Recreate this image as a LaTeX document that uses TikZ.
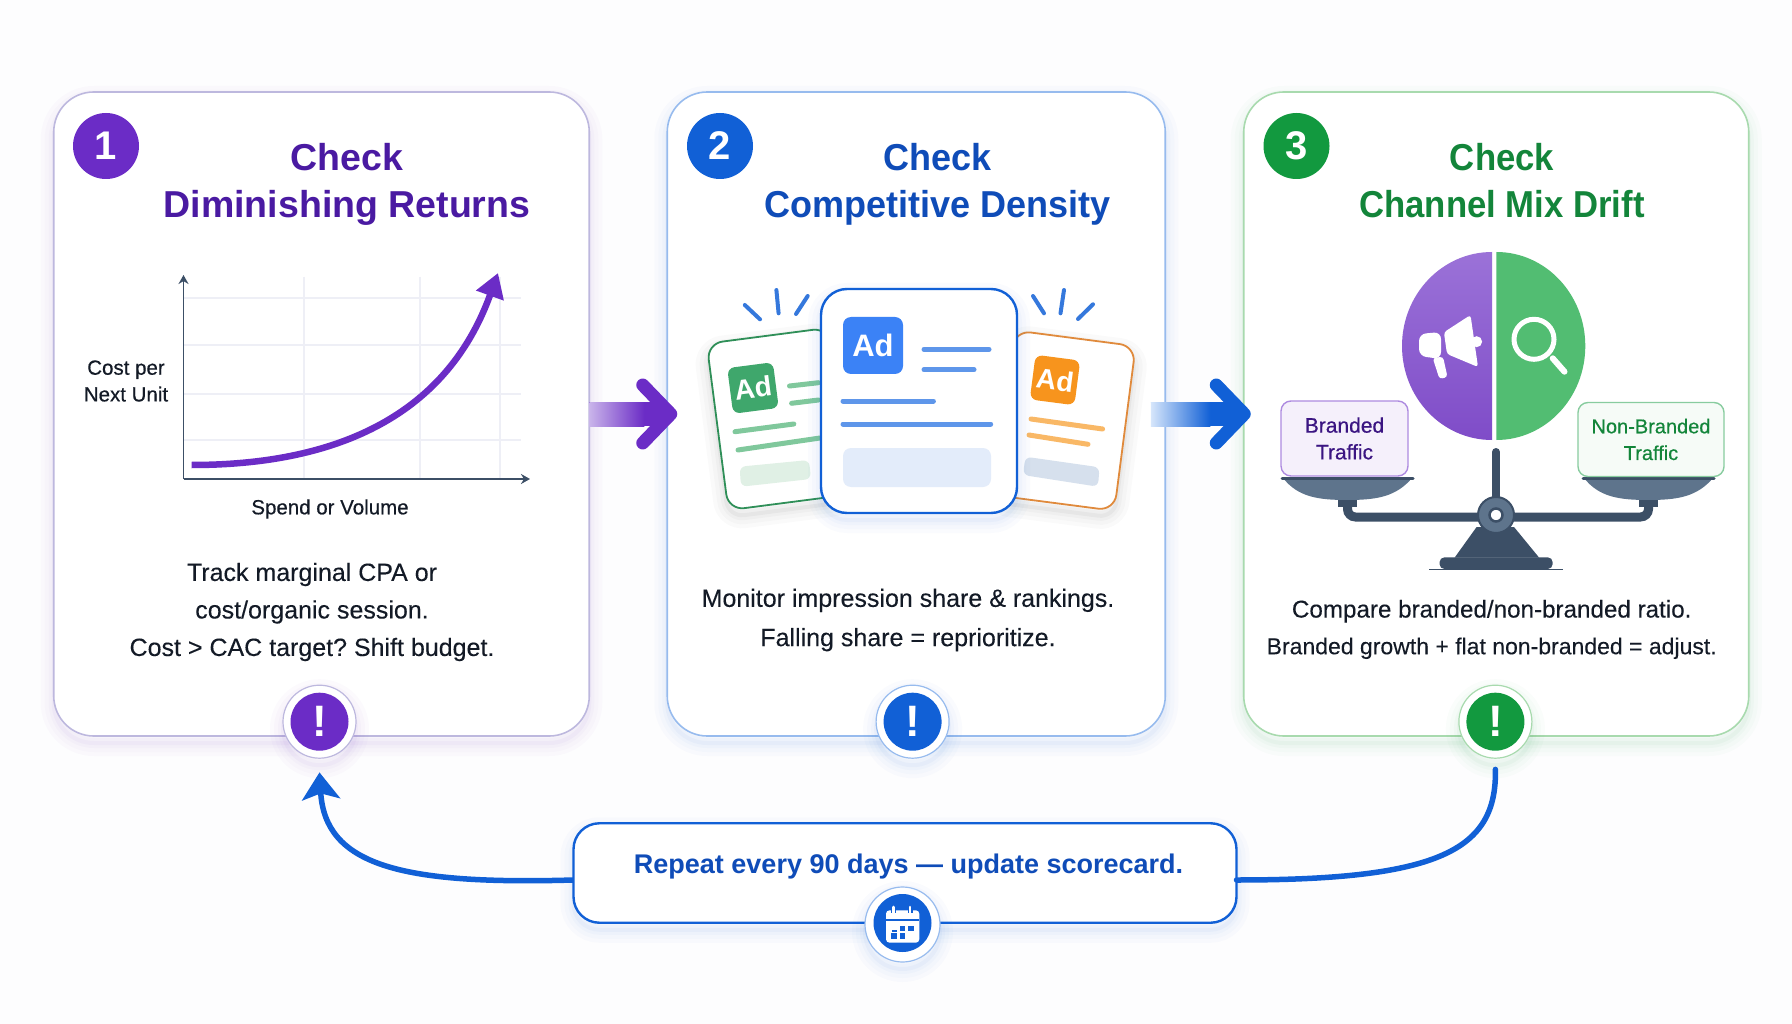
\documentclass[tikz,border=0pt]{standalone}
\usepackage{fontspec}
\setmainfont{Liberation Sans}
\newfontfamily\medfont[FakeBold=0.5]{Liberation Sans}
\newfontfamily\bodyfont[FakeBold=0.15]{Liberation Sans}
\usetikzlibrary{positioning, arrows.meta}

\definecolor{pagebg}{HTML}{FDFDFE}
\definecolor{inktext}{HTML}{131A26}
\definecolor{purplemain}{HTML}{6B2CC6}
\definecolor{purpledark}{HTML}{4A1AA2}
\definecolor{purpleline}{HTML}{BDB8DE}
\definecolor{purplefade}{HTML}{C9B4EA}
\definecolor{bluemain}{HTML}{1160D6}
\definecolor{bluedark}{HTML}{0F4CB8}
\definecolor{blueline}{HTML}{97BBEE}
\definecolor{bluefade}{HTML}{D6E6FB}
\definecolor{greenmain}{HTML}{12993F}
\definecolor{greendark}{HTML}{13853A}
\definecolor{greenline}{HTML}{A8DAAE}
\definecolor{slate}{HTML}{3C4F66}
\definecolor{slatepan}{HTML}{5E748C}
\definecolor{gridline}{HTML}{EEEFF6}
\definecolor{adgreen}{HTML}{3FA76C}
\definecolor{adgreenline}{HTML}{80C89C}
\definecolor{adgreensoft}{HTML}{E0F0E5}
\definecolor{adgreenedge}{HTML}{2F8F58}
\definecolor{adorange}{HTML}{F7941D}
\definecolor{adorangeline}{HTML}{F9B866}
\definecolor{adorangeedge}{HTML}{E08A3C}
\definecolor{adblue}{HTML}{3B82F6}
\definecolor{adblueline}{HTML}{5E96EA}
\definecolor{adbluesoft}{HTML}{E3ECFA}
\definecolor{adgreysoft}{HTML}{D6E0ED}
\definecolor{halfpurplea}{HTML}{9B72D8}
\definecolor{halfpurpleb}{HTML}{7F4CC8}
\definecolor{halfgreen}{HTML}{52BD72}

\begin{document}
\frenchspacing
\begin{tikzpicture}[
    x=1pt, y=-1pt,
    softshadow/.style={
        preaction={draw=#1, draw opacity=.018, line width=26pt, transform canvas={yshift=-7pt}},
        preaction={draw=#1, draw opacity=.02, line width=18pt, transform canvas={yshift=-7pt}},
        preaction={draw=#1, draw opacity=.025, line width=10pt, transform canvas={yshift=-7pt}},
        preaction={draw=#1, draw opacity=.035, line width=4pt, transform canvas={yshift=-7pt}}},
    card/.style={draw, fill=white, line width=1.6pt, rounded corners=40pt, outer sep=0pt, minimum height=644pt},
    numbadge/.style={circle, text=white, font=\fontsize{40}{40}\bfseries\selectfont, minimum size=66pt, inner sep=0pt},
    cardtitle/.style={align=center, font=\fontsize{37.5}{47}\bfseries\selectfont},
    bodytext/.style={align=center, text=inktext, font=\fontsize{25}{37.5}\bodyfont},
    axislabel/.style={align=center, text=inktext, font=\fontsize{20.5}{26.7}\medfont},
    alertring/.style={circle, draw, fill=white, line width=1.2pt, minimum size=73pt, inner sep=0pt},
    alertdot/.style={circle, text=white, font=\fontsize{44}{44}\bfseries\selectfont, minimum size=58pt, inner sep=0pt},
    adcard/.style={draw, fill=white, rounded corners=16pt, line width=1.8pt, outer sep=0pt},
    adbox/.style={text=white, rounded corners=7pt, font=\fontsize{28}{28}\bfseries\selectfont, inner sep=0pt},
    adline/.style={line width=5pt, line cap=round},
    scalebox/.style={draw, line width=1.4pt, rounded corners=10pt, outer sep=0pt, align=center, font=\fontsize{21}{26.7}\medfont},
    flowarrow/.style={line width=24pt, -{Straight Barb[length=28pt, width=58pt, line width=13pt, round]}},
    loopline/.style={draw=bluemain, line width=5.5pt}
]
   \fill[pagebg] (0,0) rectangle (1792,1024);
   \useasboundingbox (0,0) rectangle (1792,1024);

   % Cards
   \node[card, draw=purpleline, softshadow=purplemain, minimum width=535.5pt] (c1) at (321.5,414) {};
   \node[card, draw=blueline, softshadow=bluemain, minimum width=498pt] (c2) [right=78pt of c1] {};
   \node[card, draw=greenline, softshadow=greenmain, minimum width=505pt] (c3) [right=78.5pt of c2] {};

   \node[numbadge, fill=purplemain] (n1) at (106,146) {1};
   \node[numbadge, fill=bluemain] (n2) at (720,146) {2};
   \node[numbadge, fill=greenmain] (n3) at (1296.5,146) {3};

   \node[cardtitle, text=purpledark] (t1) at (347,184) {Check\\Diminishing Returns};
   \node[cardtitle, text=bluedark, xscale=.96, transform shape] (t2) at (938,184) {Check\\Competitive Density};
   \node[cardtitle, text=greendark, xscale=.925, transform shape] (t3) at (1502,180.6) {Check\\Channel Mix Drift};

   \node[bodytext] (d1) at (312,612) {Track marginal CPA or\\cost/organic session.\\Cost > CAC target? Shift budget.};
   \node[bodytext, font=\fontsize{25}{39.3}\bodyfont] (d2) at (908,620) {Monitor impression share \& rankings.\\Falling share = reprioritize.};
   \node[bodytext, font=\fontsize{24.2}{36.7}\bodyfont] (d3) at (1491.7,629.5) {Compare branded/non-branded ratio.\\{\fontsize{23}{36.7}\bodyfont Branded growth + flat non-branded = adjust.}};

   % Chart
   \foreach \gy in {298,345,394,440} \draw[gridline, line width=1.5pt] (183,\gy) -- (521,\gy);
   \foreach \gx in {304,420,500} \draw[gridline, line width=1.5pt] (\gx,277) -- (\gx,479);
   \coordinate (origin) at (183.5,479);
   \coordinate (ytop) at (183.5,275);
   \coordinate (xend) at (530,479);
   \draw[slate, line width=1.6pt, -{Stealth[length=9pt, width=10pt]}] (origin) -- (ytop);
   \draw[slate, line width=1.6pt, -{Stealth[length=9pt, width=10pt]}] (origin) -- (xend);
   \coordinate (curvea) at (191.7,465);
   \coordinate (curveb) at (498,273);
   \draw[purplemain, line width=6.5pt, -{Triangle[length=24pt, width=28pt]}] (curvea) .. controls (330,465) and (445,420) .. (curveb);
   \node[axislabel] (ylabel) at (126,381) {Cost per\\Next Unit};
   \node[axislabel] (xlabel) at (330,509) {Spend or Volume};

   % Ad pages
   \foreach \ax/\ay/\bx/\by in {744.8/305/760/319.3, 776.4/290/778.6/313.3, 807.7/296/796/314, 1033/296/1044/313.3, 1064/290/1060.5/313.3, 1093/304.3/1078/319}
      \draw[bluemain!85!white, line width=4pt, line cap=round] (\ax,\ay) -- (\bx,\by);

   \node[adcard, draw=adgreenedge, softshadow=black, rotate=7.4, minimum width=123pt, minimum height=168pt] (ad1) at (778.5,419) {};
   \node[adbox, fill=adgreen, rotate=7.4, minimum size=46pt] (ad1box) at (753,388) {Ad};
   \draw[adline, adgreenline] (789.5,386) -- (818.5,382.7);
   \draw[adline, adgreenline] (791.6,403.3) -- (818.5,400);
   \draw[adline, adgreenline] (735,431.7) -- (793.8,424);
   \draw[adline, adgreenline] (738,450) -- (820,438);
   \fill[adgreensoft, rounded corners=6pt] (739.6,466.7) -- (809,460) -- (811,479) -- (741,486.7) -- cycle;

   \node[adcard, draw=adorangeedge, softshadow=black, rotate=-7.4, minimum width=122pt, minimum height=166pt] (ad3) at (1064.5,420.6) {};
   \node[adbox, fill=adorange, rotate=-7.4, minimum size=45pt] (ad3box) at (1055,380) {Ad};
   \draw[adline, adorangeline] (1031,419) -- (1102.6,429);
   \draw[adline, adorangeline] (1029,435) -- (1088,444.3);
   \fill[adgreysoft, rounded corners=6pt] (1025.4,456.7) -- (1099.5,467.3) -- (1098,486.7) -- (1023,475) -- cycle;

   \node[adcard, draw=bluemain, softshadow=bluemain, line width=2.4pt, rounded corners=26pt, minimum width=196pt, minimum height=224pt] (ad2) at (919,401) {};
   \node[adbox, fill=adblue, rounded corners=8pt, minimum width=60pt, minimum height=57pt, font=\fontsize{31}{31}\bfseries\selectfont] (ad2box) at (873,345.5) {Ad};
   \foreach \ax/\bx/\ay in {924/989/349.3, 924/974/369.7, 843/933.4/401, 843/990.7/424}
      \draw[adline, adblueline] (\ax,\ay) -- (\bx,\ay);
   \fill[adbluesoft, rounded corners=8pt] (843,448) rectangle (991,487);

   % Balance
   \shade[top color=halfpurplea, bottom color=halfpurpleb] (1492,252) arc[x radius=90, y radius=94, start angle=270, end angle=90] -- cycle;
   \fill[halfgreen] (1496.3,252) arc[x radius=89, y radius=94, start angle=-90, end angle=90] -- cycle;
   \fill[white, rounded corners=3pt] (1443.9,332.3) -- (1470.5,315) -- (1478,367) -- (1447,354) -- cycle;
   \fill[white] (1476.6,341.7) circle (5.5);
   \fill[white, rounded corners=7pt] (1441,332) -- (1419,334) -- (1419,356) -- (1441,359) -- cycle;
   \fill[white, rounded corners=3pt] (1432.7,358) -- (1439.5,379) -- (1447.5,377) -- (1443,356.7) -- cycle;
   \draw[white, line width=5pt] (1534,339.3) circle (20);
   \draw[white, line width=6pt, line cap=round] (1552.7,358.3) -- (1564.5,371.7);

   \draw[slate, line width=8pt, line cap=round] (1496,452) -- (1496,505);
   \fill[slate] (1454.7,557.5) -- (1476.6,527) -- (1514,527) -- (1539,557.5) -- cycle;
   \fill[slate, rounded corners=5pt] (1439.5,569) -- (1439.5,557.3) -- (1552.7,557.3) -- (1552.7,569) -- cycle;
   \draw[slate, line width=1.6pt] (1429,569.3) -- (1563,569.3);
   \draw[slate, line width=9pt, rounded corners=8pt] (1347.5,503) -- (1347.5,517) -- (1648.5,517) -- (1648.5,503);
   \foreach \sx in {0,301} {
      \fill[slate] (1338+\sx,497) rectangle (1357+\sx,507);
      \fill[slatepan] (1283+\sx,478) .. controls (1298+\sx,497) and (1318+\sx,500) .. (1347+\sx,500) .. controls (1376+\sx,500) and (1396+\sx,497) .. (1412+\sx,478) -- cycle;
      \draw[slate, line width=3pt, line cap=round] (1282+\sx,478) -- (1413+\sx,478);
   }
   \node[scalebox, draw=purplemain!55!white, fill=purplemain!7, text=purpledark!80!black, minimum width=127pt, minimum height=75pt] (branded) at (1344.5,438.5) {Branded\\Traffic};
   \node[scalebox, draw=greenmain!50!white, fill=greenmain!4, text=greendark, font=\fontsize{20}{26.7}\medfont, minimum width=146pt, minimum height=74pt] (nonbranded) at (1651,439.5) {Non-Branded\\Traffic};
   \fill[slatepan, draw=slate, line width=2pt] (1496,515) circle (18);
   \fill[white, draw=slate, line width=2.5pt] (1496,515) circle (6.5);

   % Alerts
   \node[alertring, draw=purpleline, softshadow=purplemain] (r1) at (319.5,721.7) {};
   \node[alertdot, fill=purplemain] (e1) at (r1) {!};
   \node[alertring, draw=blueline, softshadow=bluemain] (r2) at (912.6,721.7) {};
   \node[alertdot, fill=bluemain] (e2) at (r2) {!};
   \node[alertring, draw=greenline, softshadow=greenmain] (r3) at (1495.4,721.7) {};
   \node[alertdot, fill=greenmain] (e3) at (r3) {!};

   % Arrows
   \draw[flowarrow, purplemain, shorten >=-10pt] (c1.east) -- (c2.west);
   \shade[left color=purplefade, right color=purplemain] ([yshift=12pt]c1.east) rectangle ([xshift=55pt, yshift=-12pt]c1.east);
   \draw[flowarrow, bluemain, shorten >=-7pt] ([xshift=-14.4pt]c2.east) -- (c3.west);
   \shade[left color=bluefade, right color=bluemain] ([xshift=-14.4pt, yshift=12pt]c2.east) rectangle ([xshift=45pt, yshift=-12pt]c2.east);

   % Repeat loop
   \node[draw=bluemain, fill=white, softshadow=bluemain, line width=2.4pt, rounded corners=26pt, outer sep=0pt, minimum width=663pt, minimum height=99.5pt] (rep) at (905,873) {};
   \node[text=bluedark, font=\fontsize{27}{27}\bfseries\selectfont] (replabel) at (908.6,866.5) {Repeat every 90 days — update scorecard.};
   \draw[loopline, line cap=round] ([yshift=-10.6pt]r3.south) .. controls (1497,850) and (1440,880) .. ([yshift=-7pt]rep.east);
   \draw[loopline, -{Stealth[length=27pt, width=38pt, inset=6pt]}] ([yshift=-7pt]rep.west) .. controls (400,885) and (325,865) .. ([yshift=-13.6pt]r1.south);

   \node[alertring, draw=blueline, softshadow=bluemain, minimum size=75pt] (r4) at (902.5,924.5) {};
   \node[alertdot, fill=bluemain] (e4) at (902.5,923) {};
   \fill[white, rounded corners=3.5pt] (886,910.3) rectangle (919.3,942.7);
   \draw[bluemain, line width=2pt] (886,919.5) -- (919.3,919.5);
   \foreach \cx in {893.3,910} \draw[white, line width=2.6pt, line cap=round, preaction={draw=bluemain, line width=5pt}] (\cx,907) -- (\cx,913);
   \foreach \cx/\cy in {902.5/928.5, 911/928.5, 894/936, 902.5/936}
      \fill[bluemain] (\cx-2.6,\cy-2.6) rectangle (\cx+2.6,\cy+2.6);
   \fill[bluemain] (891.5,929.5) rectangle (896.5,932);
\end{tikzpicture}
\end{document}
